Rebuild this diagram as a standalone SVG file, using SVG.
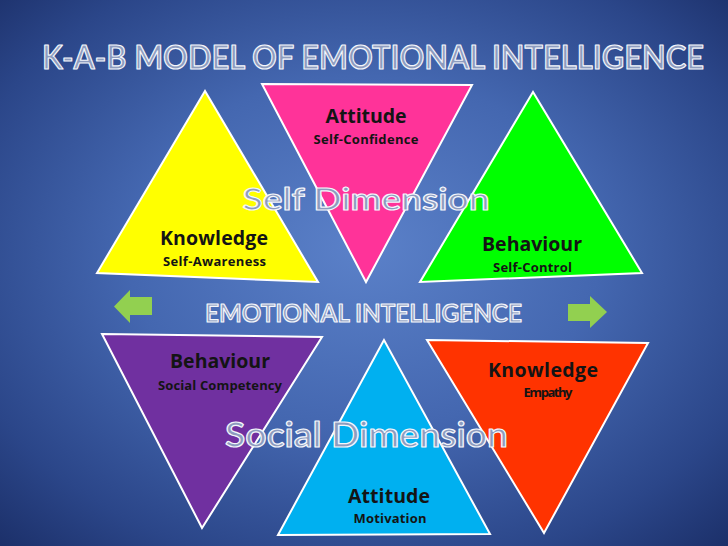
<svg xmlns="http://www.w3.org/2000/svg" width="728" height="546" viewBox="0 0 728 546">
  <defs>
    <radialGradient id="bg" cx="50%" cy="48%" r="72%" fx="50%" fy="45%">
      <stop offset="0" stop-color="#5b81c9"/>
      <stop offset="0.45" stop-color="#4467b0"/>
      <stop offset="0.8" stop-color="#2b4689"/>
      <stop offset="1" stop-color="#1c306a"/>
    </radialGradient>
    <style>
      .tri { stroke: #ffffff; stroke-width: 2; stroke-linejoin: miter; }
      .big { font-family: "Open Sans", "Liberation Sans", sans-serif; font-weight: bold; fill: #141414; text-anchor: middle; font-size: 19.5px; }
      .small { font-family: "Open Sans", "Liberation Sans", sans-serif; font-weight: bold; fill: #141414; text-anchor: middle; font-size: 13px; }
      .outline { font-family: Lato, "Open Sans", "Liberation Sans", sans-serif; font-weight: 600; fill: #8d9cbf; stroke: #f4f6fb; stroke-width: 1.2; stroke-linejoin: round; text-anchor: middle; }
      .arrow { fill: #92d050; }
    </style>
  </defs>

  <rect x="0" y="0" width="728" height="546" fill="url(#bg)"/>

  <g id="title">
    <text class="outline" x="373" y="69" font-size="33" textLength="662" lengthAdjust="spacingAndGlyphs">K-A-B MODEL OF EMOTIONAL INTELLIGENCE</text>
  </g>

  <g id="self-knowledge">
    <polygon class="tri" points="205,91 97,273 318,282" fill="#ffff00"/>
    <text class="big" x="214" y="245" textLength="108">Knowledge</text>
    <text class="small" x="214.5" y="266" textLength="103">Self-Awareness</text>
  </g>

  <g id="self-attitude">
    <polygon class="tri" points="262,84 472,85 366,282" fill="#ff3399"/>
    <text class="big" x="366" y="123" textLength="81">Attitude</text>
    <text class="small" x="366" y="144" textLength="105">Self-Confidence</text>
  </g>

  <g id="self-behaviour">
    <polygon class="tri" points="533,92 420,282 642,273" fill="#00ff00"/>
    <text class="big" x="532" y="251" textLength="100">Behaviour</text>
    <text class="small" x="532.5" y="272" textLength="79">Self-Control</text>
  </g>

  <g id="self-dimension">
    <text class="outline" x="366" y="210" font-size="31" textLength="247" lengthAdjust="spacingAndGlyphs">Self Dimension</text>
  </g>

  <g id="social-behaviour">
    <polygon class="tri" points="102,334 322,337 202,528" fill="#7030a0"/>
    <text class="big" x="220" y="368" textLength="100">Behaviour</text>
    <text class="small" x="220" y="390" textLength="124">Social Competency</text>
  </g>

  <g id="social-attitude">
    <polygon class="tri" points="384,340 278,535 490,534" fill="#00b0f0"/>
    <text class="big" x="389" y="503" textLength="82">Attitude</text>
    <text class="small" x="390" y="523" textLength="73">Motivation</text>
  </g>

  <g id="social-knowledge">
    <polygon class="tri" points="427,340 648,343 544,533" fill="#ff3300"/>
    <text class="big" x="543" y="376.5" textLength="110">Knowledge</text>
    <text class="small" x="548" y="397" textLength="49">Empathy</text>
  </g>

  <g id="emotional-intelligence">
    <text class="outline" x="363.5" y="322" font-size="25" textLength="317" lengthAdjust="spacingAndGlyphs">EMOTIONAL INTELLIGENCE</text>
  </g>

  <g id="social-dimension">
    <text class="outline" x="366.5" y="447" font-size="34" textLength="283" lengthAdjust="spacingAndGlyphs">Social Dimension</text>
  </g>

  <g id="connectors">
    <polygon class="arrow" points="114,306.5 130,290 130,297 152,297 152,315 130,315 130,323"/>
    <polygon class="arrow" points="607,312 590,296 590,304 568,304 568,321 590,321 590,328"/>
  </g>
</svg>
